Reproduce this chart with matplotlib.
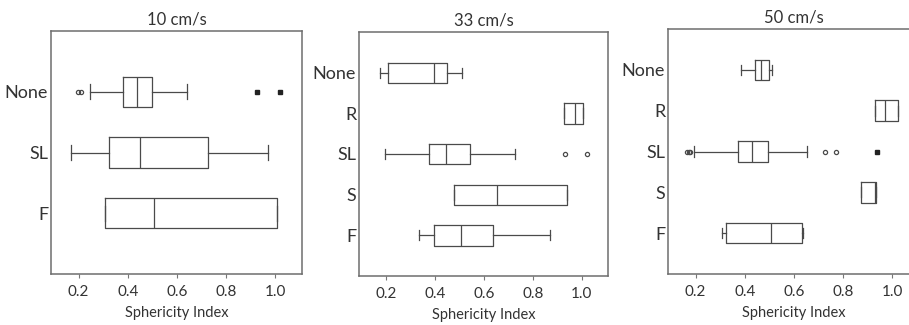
import matplotlib.pyplot as plt

plt.rcParams['font.family'] = ['Lato', 'DejaVu Sans']

# ---- data (sphericity index, box stats per category) ----
titles = ['10 cm/s', '33 cm/s', '50 cm/s']

cats_10 = ['None', 'SL', 'F']
whislo_10 = [0.246, 0.171, 0.306]
q1_10 = [0.381, 0.324, 0.306]
med_10 = [0.438, 0.450, 0.506]
q3_10 = [0.497, 0.724, 1.007]
whishi_10 = [0.641, 0.970, 1.007]
fliers_10 = [[0.197, 0.208], [], []]
extreme_10 = [[0.927, 1.020], [], []]

cats_33 = ['None', 'R', 'SL', 'S', 'F']
whislo_33 = [0.173, 0.928, 0.194, 0.479, 0.333]
q1_33 = [0.207, 0.928, 0.375, 0.479, 0.395]
med_33 = [0.394, 0.972, 0.444, 0.654, 0.506]
q3_33 = [0.450, 1.007, 0.543, 0.941, 0.635]
whishi_33 = [0.511, 1.007, 0.727, 0.941, 0.871]
fliers_33 = [[], [], [0.933, 1.022], [], []]
extreme_33 = [[], [], [], [], []]

cats_50 = ['None', 'R', 'SL', 'S', 'F']
whislo_50 = [0.385, 0.928, 0.192, 0.871, 0.306]
q1_50 = [0.443, 0.928, 0.371, 0.871, 0.325]
med_50 = [0.467, 0.971, 0.430, 0.931, 0.507]
q3_50 = [0.498, 1.022, 0.496, 0.933, 0.634]
whishi_50 = [0.509, 1.022, 0.653, 0.933, 0.638]
fliers_50 = [[], [], [0.166, 0.172, 0.178, 0.726, 0.770], [], []]
extreme_50 = [[], [], [0.939], [], []]

xticks = [0.2, 0.4, 0.6, 0.8, 1.0]

panels = [
    (cats_10, whislo_10, q1_10, med_10, q3_10, whishi_10, fliers_10, extreme_10),
    (cats_33, whislo_33, q1_33, med_33, q3_33, whishi_33, fliers_33, extreme_33),
    (cats_50, whislo_50, q1_50, med_50, q3_50, whishi_50, fliers_50, extreme_50),
]

# axes rectangles in figure fraction (from pixel positions in the 909x325 reference)
rects = [
    [51 / 909, 1 - 274 / 325, 251 / 909, 243 / 325],
    [359 / 909, 1 - 276 / 325, 249 / 909, 244 / 325],
    [668 / 909, 1 - 274 / 325, 251 / 909, 245 / 325],
]

line_c = '#4a4a4a'
text_c = '#333333'

fig = plt.figure(figsize=(9.09, 3.25), dpi=100)

for title, rect, (cats, lo, q1, med, q3, hi, fl, ex) in zip(titles, rects, panels):
    ax = fig.add_axes(rect)
    stats = []
    for i in range(len(cats)):
        stats.append(dict(label=cats[i], whislo=lo[i], q1=q1[i], med=med[i],
                          q3=q3[i], whishi=hi[i], fliers=fl[i]))
    pos = list(range(len(cats)))
    ax.bxp(stats, positions=pos, vert=False, widths=0.5, showfliers=True,
           boxprops=dict(color=line_c, linewidth=0.9),
           medianprops=dict(color=line_c, linewidth=0.9),
           whiskerprops=dict(color=line_c, linewidth=0.9),
           capprops=dict(color=line_c, linewidth=0.9),
           flierprops=dict(marker='o', markersize=3.0, markerfacecolor='none',
                           markeredgecolor=line_c, markeredgewidth=0.9))
    for p, vals in zip(pos, ex):
        if vals:
            ax.plot(vals, [p] * len(vals), linestyle='none', marker='s',
                    markersize=2.2, color='#222222')

    ax.set_ylim(len(cats), -1)
    ax.set_xlim(0.088, 1.108)
    ax.set_xticks(xticks)
    ax.set_xticklabels(['%.1f' % t for t in xticks])
    ax.set_yticks(pos)
    ax.set_yticklabels(cats)
    ax.tick_params(axis='y', length=0, pad=2, labelsize=13, labelcolor=text_c)
    ax.tick_params(axis='x', length=3, width=0.8, color='#777777', pad=5,
                   labelsize=11, labelcolor=text_c)
    for s in ax.spines.values():
        s.set_color('#6e6e6e')
        s.set_linewidth(1.1)
    ax.set_xlabel('Sphericity Index', fontsize=10.5, color=text_c, labelpad=5)
    ax.set_title(title, fontsize=12, color=text_c, pad=5)

fig.savefig('out.png', dpi=100)
